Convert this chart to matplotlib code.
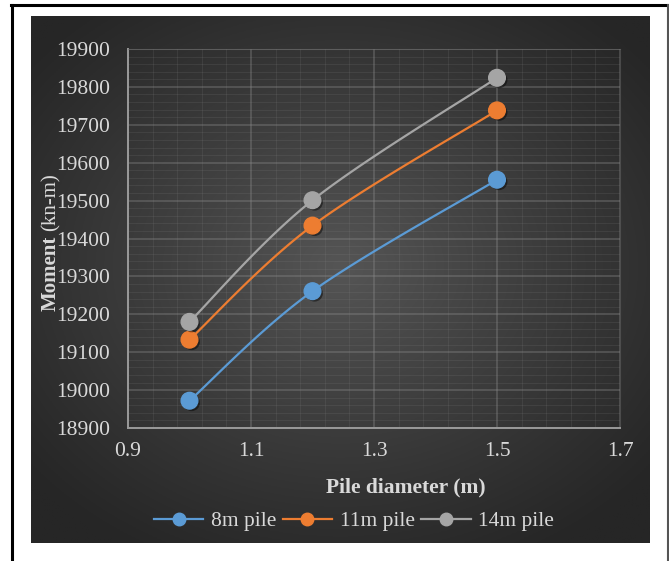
import numpy as np
import matplotlib
matplotlib.use("Agg")
import matplotlib.pyplot as plt
from matplotlib.lines import Line2D
import matplotlib.patheffects as pe

# pile diameters (m) and bending moments (kN-m) for three pile lengths
diameters = [1.0, 1.2, 1.5]
moment_8m = [18972, 19261, 19555]
moment_11m = [19133, 19434, 19738]
moment_14m = [19180, 19501, 19824]

series_names = ["8m pile", "11m pile", "14m pile"]
series_colors = ["#5b9bd5", "#ed7d31", "#a5a5a5"]

x_ticks = [0.9, 1.1, 1.3, 1.5, 1.7]
y_ticks = [18900, 19000, 19100, 19200, 19300, 19400, 19500, 19600, 19700, 19800, 19900]

W, H = 669, 561
txt = "#d9d9d9"
serif = "Liberation Serif"


def smooth(xs, ys, xr, yr, n=40):
    # Excel-style smoothed line: cubic Bezier through points, tangents from neighbours
    px = (np.asarray(xs) - xr[0]) / (xr[1] - xr[0])
    py = (np.asarray(ys) - yr[0]) / (yr[1] - yr[0])
    pts = np.column_stack([px, py])
    out = []
    t = np.linspace(0, 1, n)[:, None]
    for i in range(len(pts) - 1):
        p0 = pts[max(i - 1, 0)]
        p1 = pts[i]
        p2 = pts[i + 1]
        p3 = pts[min(i + 2, len(pts) - 1)]
        c1 = p1 + (p2 - p0) / 6
        c2 = p2 - (p3 - p1) / 6
        seg = ((1 - t) ** 3) * p1 + 3 * ((1 - t) ** 2) * t * c1 + 3 * (1 - t) * t ** 2 * c2 + t ** 3 * p2
        out.append(seg)
    out = np.vstack(out)
    return out[:, 0] * (xr[1] - xr[0]) + xr[0], out[:, 1] * (yr[1] - yr[0]) + yr[0]


fig = plt.figure(figsize=(W / 100, H / 100), dpi=100)
fig.patch.set_facecolor("white")

# dark chart area with radial shading
bg = fig.add_axes([31 / W, (H - 543) / H, (650 - 31) / W, (543 - 16) / H])
gx, gy = np.meshgrid(np.linspace(-1, 1, 300), np.linspace(-1, 1, 260))
r = np.sqrt((gx * 0.95) ** 2 + ((gy + 0.05) * 1.0) ** 2)
shade = np.clip(1 - r / 1.25, 0, 1)
lo = np.array([0x26, 0x26, 0x26]) / 255
hi = np.array([0x55, 0x55, 0x55]) / 255
img = lo + (hi - lo) * shade[..., None] ** 1.1
bg.imshow(img, aspect="auto", extent=[0, 1, 0, 1], origin="upper")
bg.axis("off")

ax = fig.add_axes([128 / W, (H - 428) / H, (620 - 128) / W, (428 - 49) / H])
ax.set_facecolor("none")
xr = (0.9, 1.7)
yr = (18900, 19900)
ax.set_xlim(*xr)
ax.set_ylim(*yr)
ax.set_xticks(x_ticks)
ax.set_yticks(y_ticks)
ax.set_xticks(np.arange(0.9, 1.7001, 0.04), minor=True)
ax.set_yticks(np.arange(18900, 19900.1, 20), minor=True)
ax.set_xticklabels([f"{v:g}" for v in x_ticks], fontsize=15.5, color=txt, family=serif)
ax.set_yticklabels([str(v) for v in y_ticks], fontsize=15.5, color=txt, family=serif)
ax.tick_params(which="both", length=0)
ax.tick_params(axis="x", pad=10)
ax.tick_params(axis="y", pad=13)
ax.grid(which="major", color="#8a8a8a", alpha=0.45, linewidth=1.1)
ax.grid(which="minor", color="#8a8a8a", alpha=0.15, linewidth=0.8)
ax.set_axisbelow(True)
for side in ["top", "right"]:
    ax.spines[side].set_color("#6a6a6a")
    ax.spines[side].set_alpha(0.5)
for side in ["left", "bottom"]:
    ax.spines[side].set_color("#9a9a9a")
    ax.spines[side].set_linewidth(1.4)

shadow = [pe.SimplePatchShadow(offset=(1.5, -1.5), shadow_rgbFace="black", alpha=0.45), pe.Normal()]
for ys, name, col in zip([moment_8m, moment_11m, moment_14m], series_names, series_colors):
    sx, sy = smooth(diameters, ys, xr, yr)
    ax.plot(sx, sy, color=col, linewidth=1.6, zorder=3)
    ax.plot(diameters, ys, linestyle="none", marker="o", markersize=12,
            markerfacecolor=col, markeredgecolor=col, zorder=4, path_effects=shadow)

ax.set_xlabel("Pile diameter (m)", fontsize=15.5, fontweight="bold", color=txt, family=serif)
ax.xaxis.set_label_coords((406 - 128) / (620 - 128), -(477 - 428) / (428 - 49))

# y-axis title: bold word followed by regular units
fig.text(51 / W, (H - 311) / H, "Moment", rotation=90, rotation_mode="anchor",
         ha="left", va="center", fontsize=15, fontweight="bold", color=txt, family=serif)
fig.text(51 / W, (H - 231) / H, "(kn-m)", rotation=90, rotation_mode="anchor",
         ha="left", va="center", fontsize=15, color=txt, family=serif)

handles = [Line2D([0], [0], color=c, linewidth=1.6, marker="o", markersize=9) for c in series_colors]
leg = fig.legend(handles, series_names, loc="center", bbox_to_anchor=(354 / W, (H - 521) / H),
                 ncol=3, frameon=False, handlelength=2.3, handletextpad=0.35, columnspacing=0.3,
                 prop={"family": serif, "size": 15.5})
for t in leg.get_texts():
    t.set_color(txt)

# outer frame around the figure
fig.add_artist(Line2D([11.5 / W, 11.5 / W], [0, (H - 4.5) / H], color="black", linewidth=2.2))
fig.add_artist(Line2D([11 / W, 1], [(H - 4.5) / H, (H - 4.5) / H], color="black", linewidth=2.2))
fig.add_artist(Line2D([667.5 / W, 667.5 / W], [0, (H - 4.5) / H], color="#555555", linewidth=1.5))

fig.savefig("out.png", dpi=100, facecolor="white")
